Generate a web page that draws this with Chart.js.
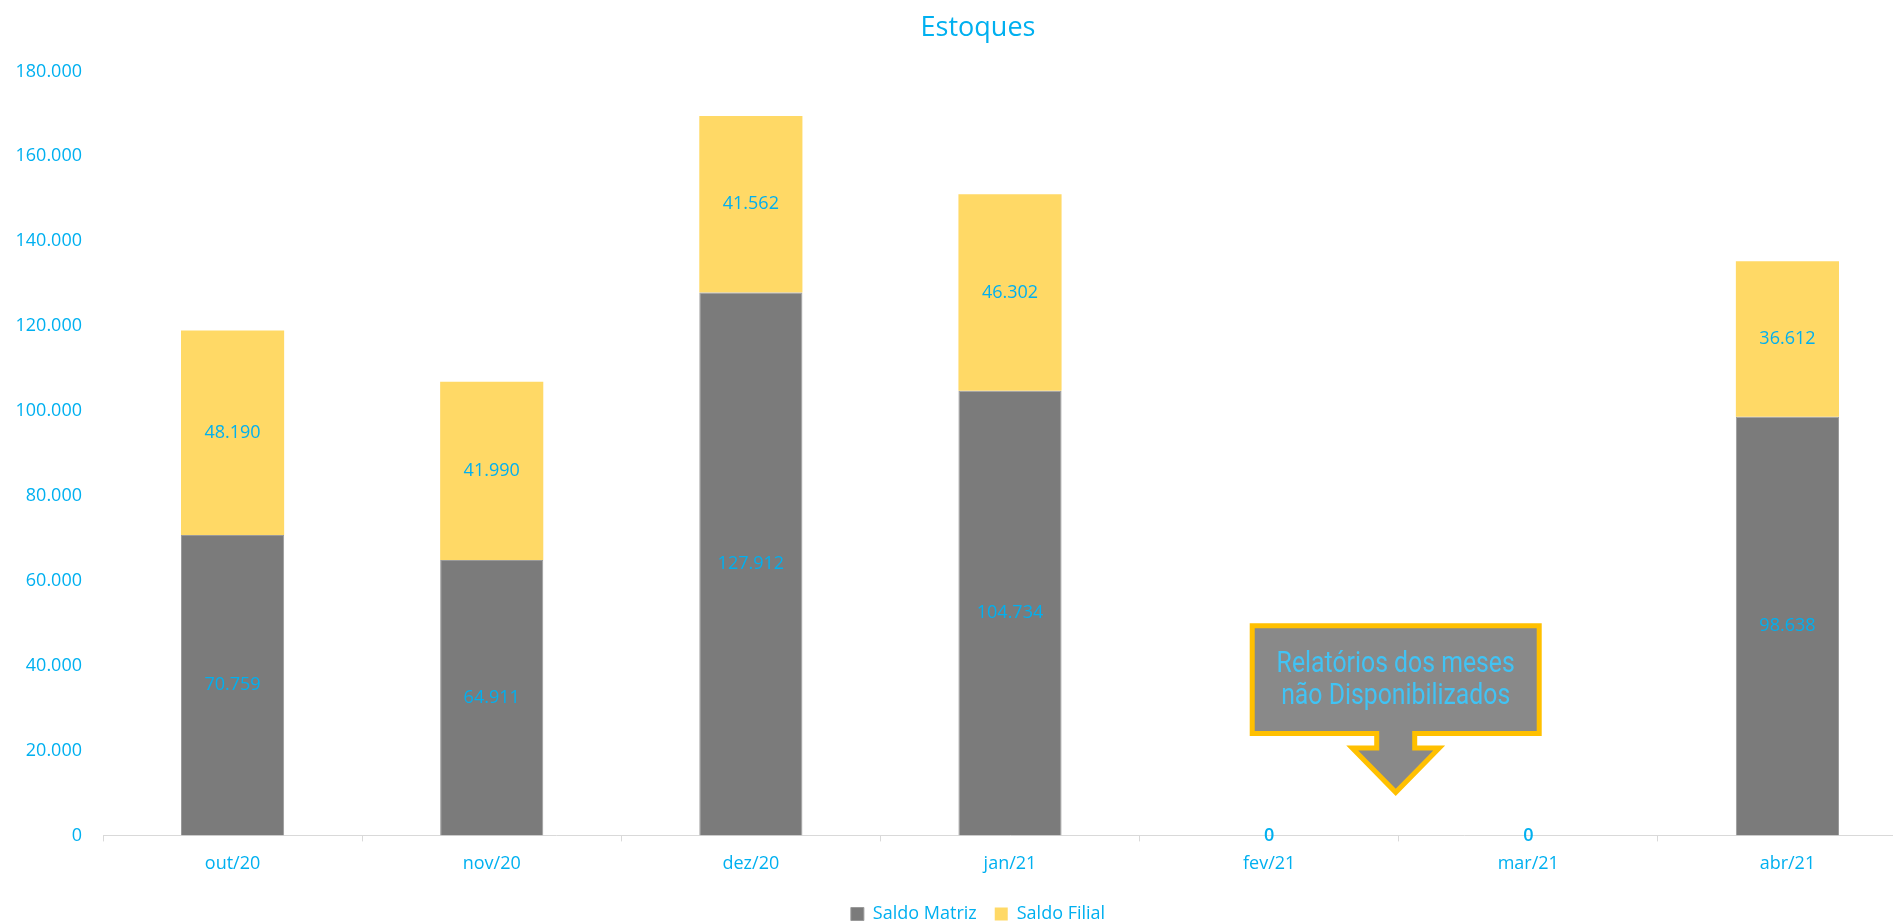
<!DOCTYPE html>
<html>
<head>
<meta charset="utf-8">
<script src="https://cdn.jsdelivr.net/npm/chart.js@4"></script>
<style>
  html, body { margin: 0; padding: 0; background: #fff; overflow: hidden; }
  #clip { width: 1893px; height: 921px; overflow: hidden; }
  #wrap { width: 1956px; height: 921px; }
</style>
</head>
<body>
<div id="clip"><div id="wrap"><canvas id="chart"></canvas></div></div>
<script>
var months = ['out/20', 'nov/20', 'dez/20', 'jan/21', 'fev/21', 'mar/21', 'abr/21'];
var saldoMatriz = [70759, 64911, 127912, 104734, 0, 0, 98638];
var saldoFilial = [48190, 41990, 41562, 46302, null, null, 36612];
var yTicks = [0, 20000, 40000, 60000, 80000, 100000, 120000, 140000, 160000, 180000];
var calloutLines = ['Relatórios dos meses', 'não Disponibilizados'];

var blue = '#00B0F0';
var fmt = function(v) { return v.toLocaleString('pt-BR'); };

// values written in the middle of every bar segment
var segmentLabels = {
    id: 'segmentLabels',
    afterDatasetsDraw: function(chart) {
        var ctx = chart.ctx;
        ctx.save();
        ctx.fillStyle = blue;
        ctx.textAlign = 'center';
        ctx.textBaseline = 'middle';
        chart.data.datasets.forEach(function(ds, i) {
            chart.getDatasetMeta(i).data.forEach(function(bar, j) {
                var v = ds.data[j];
                if (v === null) return;
                ctx.font = (v === 0 ? '600 ' : '') + '18px "Open Sans"';
                var y = (bar.y + bar.base) / 2;
                ctx.fillText(fmt(v), bar.x, y);
            });
        });
        ctx.restore();
    }
};

// arrow callout between fev/21 and mar/21
var callout = {
    id: 'callout',
    afterDraw: function(chart) {
        var ctx = chart.ctx;
        var xs = chart.scales.x, ys = chart.scales.y;
        var cx = (xs.getPixelForValue(4) + xs.getPixelForValue(5)) / 2 - 3;
        var top = ys.getPixelForValue(50000) + 2.5;
        var bottom = ys.getPixelForValue(23400) - 2.5;
        var neck = ys.getPixelForValue(20000) - 2.5;
        var tip = ys.getPixelForValue(9200) - 4;
        var hw = 146 - 2.5, sw = 21.5 - 2.5, aw = 46.5 - 3;

        ctx.save();
        ctx.beginPath();
        ctx.moveTo(cx - hw, top);
        ctx.lineTo(cx + hw, top);
        ctx.lineTo(cx + hw, bottom);
        ctx.lineTo(cx + sw, bottom);
        ctx.lineTo(cx + sw, neck);
        ctx.lineTo(cx + aw, neck);
        ctx.lineTo(cx, tip);
        ctx.lineTo(cx - aw, neck);
        ctx.lineTo(cx - sw, neck);
        ctx.lineTo(cx - sw, bottom);
        ctx.lineTo(cx - hw, bottom);
        ctx.closePath();
        ctx.fillStyle = '#898989';
        ctx.fill();
        ctx.lineWidth = 5;
        ctx.lineJoin = 'miter';
        ctx.strokeStyle = '#FFC000';
        ctx.stroke();

        ctx.fillStyle = '#41C3F4';
        ctx.font = '29px Roboto';
        ctx.textAlign = 'center';
        ctx.textBaseline = 'middle';
        var midY = (top + bottom) / 2 + 1;
        calloutLines.forEach(function(line, k) {
            ctx.save();
            ctx.translate(cx, midY + (k - 0.5) * 32);
            ctx.scale(0.855, 1);
            ctx.fillText(line, 0, 0);
            ctx.restore();
        });
        ctx.restore();
    }
};

new Chart(document.getElementById('chart'), {
    type: 'bar',
    data: {
        labels: months,
        datasets: [{
            label: 'Saldo Matriz',
            data: saldoMatriz,
            backgroundColor: '#7B7B7B',
            borderColor: '#9a9a9a',
            borderWidth: 1
        }, {
            label: 'Saldo Filial',
            data: saldoFilial,
            backgroundColor: '#FFD966',
            borderWidth: 0
        }]
    },
    options: {
        responsive: true,
        maintainAspectRatio: false,
        animation: false,
        layout: { autoPadding: false, padding: { left: 39, right: 39, top: 2, bottom: -12 } },
        datasets: { bar: { barPercentage: 0.398, categoryPercentage: 1 } },
        scales: {
            x: {
                stacked: true,
                grid: { display: true, drawOnChartArea: false, drawTicks: true, tickLength: 6, offset: true, color: '#D9D9D9' },
                border: { display: true, color: '#D9D9D9', width: 1 },
                ticks: { color: blue, font: { family: 'Open Sans', size: 18 }, padding: 12 }
            },
            y: {
                stacked: true,
                min: 0,
                max: 180000,
                afterBuildTicks: function(axis) {
                    axis.ticks = yTicks.map(function(v) { return { value: v }; });
                },
                afterFit: function(axis) {
                    axis.width = 64;
                    axis._computeLabelArea = function() {}; // labels may hang past the narrowed box
                },
                grid: { display: false, drawTicks: false },
                border: { display: false },
                ticks: {
                    color: blue,
                    font: { family: 'Open Sans', size: 18 },
                    padding: 21,
                    callback: function(v) { return fmt(v); }
                }
            }
        },
        plugins: {
            title: {
                display: true,
                text: 'Estoques',
                color: blue,
                font: { family: 'Open Sans', size: 27, weight: 'normal' },
                padding: { top: 10, bottom: 27 }
            },
            legend: {
                position: 'bottom',
                labels: {
                    color: blue,
                    font: { family: 'Open Sans', size: 18 },
                    boxWidth: 13,
                    boxHeight: 13,
                    padding: 18
                }
            },
            tooltip: { enabled: false }
        }
    },
    plugins: [segmentLabels, callout]
});
</script>
</body>
</html>
